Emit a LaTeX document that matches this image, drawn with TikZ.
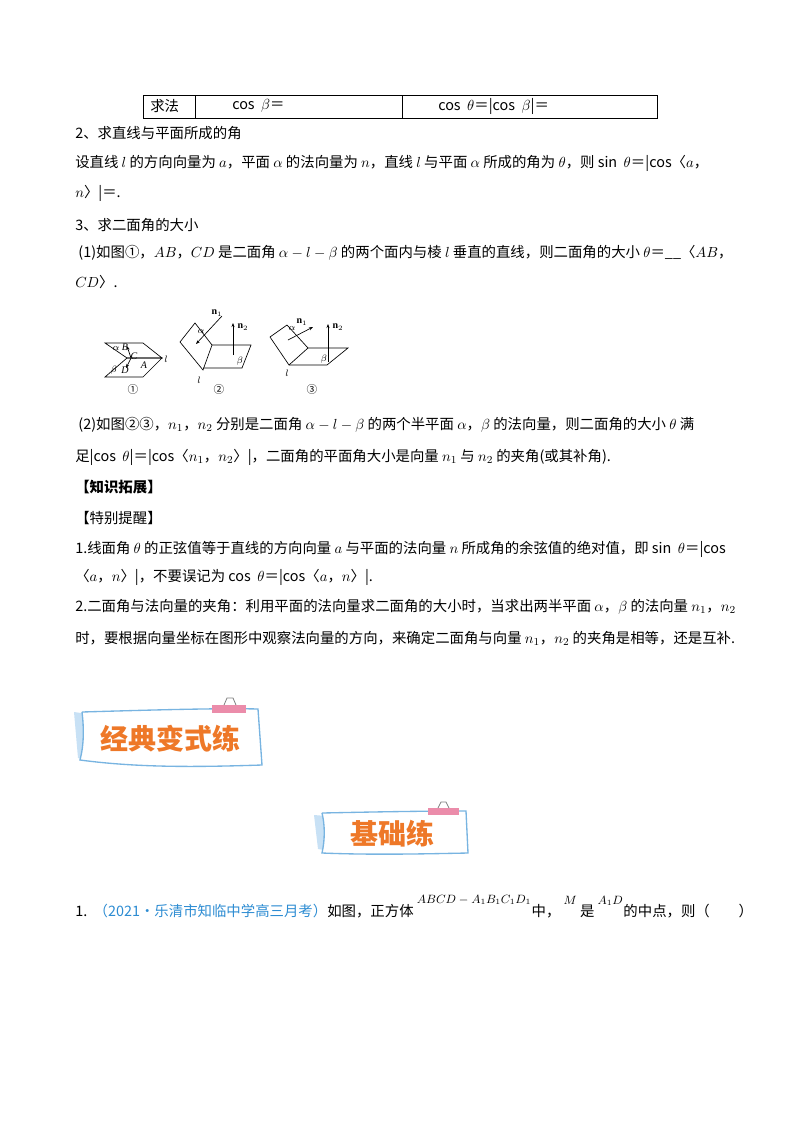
\documentclass[tikz,border=0pt]{standalone}
\usepackage{fontspec}
\setmainfont{Liberation Serif}
\newfontfamily\cjk{Noto Sans CJK SC}
\usetikzlibrary{arrows.meta}
\definecolor{qblue}{RGB}{45,140,210}
\definecolor{borange}{RGB}{238,120,40}
\definecolor{bline}{RGB}{120,180,225}
\definecolor{bfill}{RGB}{200,225,245}
\definecolor{pinkc}{RGB}{235,140,170}
\tikzset{
 txt/.style={anchor=west,inner sep=0pt,font=\cjk\fontsize{10.8}{13}\selectfont},
 lab/.style={inner sep=0pt,font=\fontsize{7.5}{8}\selectfont\itshape},
 num/.style={inner sep=0pt,font=\cjk\fontsize{8}{9}\selectfont},
 geo/.style={line width=0.5pt},
 vec/.style={line width=0.5pt,-{Stealth[length=3pt]}},
 banner/.style={draw=bline,line width=1pt,fill=white},
 btxt/.style={inner sep=0pt,text=borange,font=\cjk\bfseries\fontsize{21}{24}\selectfont},
 sup/.style={inner sep=0pt,anchor=south west,font=\fontsize{9}{10}\selectfont},
}
\newcommand{\eqs}{＝}
\begin{document}
\begin{tikzpicture}[x=0.75pt,y=-0.75pt]
\useasboundingbox (0,0) rectangle (800,1132);
% table
\draw[line width=0.6pt] (143,95) rectangle (657,118);
\draw[line width=0.6pt] (195,95) -- (195,118) (402,95) -- (402,118);
\node[txt] (t1) at (150,106) {求法};
\node[txt] (t2) at (232,106) {cos\ \ $\beta$\eqs};
\node[txt] (t3) at (438,106) {cos\ \ $\theta$\eqs|cos\ \ $\beta$|\eqs};
% text lines
\node[txt] (l1) at (75,133) {2、求直线与平面所成的角};
\node[txt] (l2) at (75,163) {设直线 $l$ 的方向向量为 $a$，平面 $\alpha$ 的法向量为 $n$，直线 $l$ 与平面 $\alpha$ 所成的角为 $\theta$，则 sin\ \ $\theta$\eqs|cos〈$a$，};
\node[txt] (l3) at (75,193) {$n$〉|\eqs.};
\node[txt] (l4) at (75,225) {3、求二面角的大小};
\node[txt] (l5) at (75,253) {\ (1)如图①，$AB$，$CD$ 是二面角 $\alpha-l-\beta$ 的两个面内与棱 $l$ 垂直的直线，则二面角的大小 $\theta$\eqs\_\_〈$AB$，};
\node[txt] (l6) at (75,282) {$CD$〉.};
% figure 1
\draw[geo] (105,343) -- (143,343) -- (162,358) -- (127,358) -- cycle;
\draw[geo] (127,358) -- (162,358) -- (143,377) -- (105,377) -- cycle;
\draw[vec] (131,358) -- (127,346);
\draw[vec] (131,358) -- (126,368);
\node[lab] (f1l) at (166,359) {$l$};
\node[lab] (f1a) at (116,348) {$\alpha$};
\node[lab] (f1B) at (125,347) {B};
\node[lab] (f1C) at (134,356) {C};
\node[lab] (f1A) at (144,365) {A};
\node[lab] (f1b) at (114,370) {$\beta$};
\node[lab] (f1D) at (125,370) {D};
\node[num] (c1) at (133,389) {①};
% figure 2
\draw[geo] (195,323) -- (180,342) -- (203,370) -- (212,345) -- cycle;
\draw[geo] (212,345) -- (251,345) -- (242,368) -- (203,368);
\draw[vec] (222,316) -- (196,344);
\draw[vec] (233,355) -- (233,323);
\node[lab] (f2n1) at (217,313) {$\mathbf{n}_1$};
\node[lab] (f2n2) at (243,327) {$\mathbf{n}_2$};
\node[lab] (f2a) at (201,331) {$\alpha$};
\node[lab] (f2b) at (240,361) {$\beta$};
\node[lab] (f2l) at (199,380) {$l$};
\node[num] (c2) at (219,389) {②};
% figure 3
\draw[geo] (287,325) -- (270,337) -- (289,365) -- (308,348) -- cycle;
\draw[geo] (308,348) -- (348,348) -- (327,365) -- (289,365);
\draw[vec] (288,340) -- (313,327);
\draw[vec] (328,362) -- (328,324);
\node[lab] (f3n1) at (302,322) {$\mathbf{n}_1$};
\node[lab] (f3n2) at (338,327) {$\mathbf{n}_2$};
\node[lab] (f3a) at (292,328) {$\alpha$};
\node[lab] (f3b) at (324,359) {$\beta$};
\node[lab] (f3l) at (287,373) {$l$};
\node[num] (c3) at (312,389) {③};
% more text
\node[txt] (l7) at (75,425) {\ (2)如图②③，$n_1$，$n_2$ 分别是二面角 $\alpha-l-\beta$ 的两个半平面 $\alpha$，$\beta$ 的法向量，则二面角的大小 $\theta$ 满};
\node[txt] (l8) at (75,457) {足|cos\ \ $\theta$|\eqs|cos〈$n_1$，$n_2$〉|，二面角的平面角大小是向量 $n_1$ 与 $n_2$ 的夹角(或其补角).};
\node[txt,font=\cjk\bfseries\fontsize{10.8}{13}\selectfont] (l9) at (75,487) {【知识拓展】};
\node[txt] (l10) at (75,518) {【特别提醒】};
\node[txt] (l11) at (75,549) {1.线面角 $\theta$ 的正弦值等于直线的方向向量 $a$ 与平面的法向量 $n$ 所成角的余弦值的绝对值，即 sin\ \ $\theta$\eqs|cos};
\node[txt] (l12) at (75,577) {〈$a$，$n$〉|，不要误记为 cos\ \ $\theta$\eqs|cos〈$a$，$n$〉|.};
\node[txt] (l13) at (75,607) {2.二面角与法向量的夹角：利用平面的法向量求二面角的大小时，当求出两半平面 $\alpha$，$\beta$ 的法向量 $n_1$，$n_2$};
\node[txt] (l14) at (75,638) {时，要根据向量坐标在图形中观察法向量的方向，来确定二面角与向量 $n_1$，$n_2$ 的夹角是相等，还是互补.};
% banner 1
\fill[bfill] (74,712) -- (88,714) -- (86,760) -- (78,758) -- cycle;
\draw[banner] (82,712) .. controls (150,710) and (220,708) .. (258,709) -- (262,765) .. controls (200,767) and (140,768) .. (80,760) .. controls (84,745) and (84,728) .. (82,712);
\fill[pinkc] (212,705) rectangle (246,713);
\draw[gray,line width=0.6pt] (224,705) -- (227,698) -- (233,698) -- (236,705);
\node[btxt] (b1) at (170,739) {经典变式练};
% banner 2
\fill[bfill] (314,815) -- (326,816) -- (324,850) -- (318,849) -- cycle;
\draw[banner] (322,813) .. controls (370,812) and (420,811) .. (466,811) -- (468,853) .. controls (420,854) and (370,855) .. (322,853) .. controls (325,840) and (325,825) .. (322,813);
\fill[pinkc] (428,808) rectangle (459,815);
\draw[gray,line width=0.6pt] (438,808) -- (441,802) -- (446,802) -- (449,808);
\node[btxt] (b2) at (392,834) {基础练};
% question
\node[txt] (q1) at (75,911) {1.\ \ \textcolor{qblue}{（2021•乐清市知临中学高三月考）}如图，正方体};
\node[sup] (q2) at ([xshift=2pt,yshift=-1pt]q1.north east) {$ABCD-A_1B_1C_1D_1$};
\node[txt] (q3) at ([xshift=0pt]q2.south east |- q1.west) {中，};
\node[sup] (q4) at ([xshift=2pt,yshift=-1pt]q3.north east) {$M$};
\node[txt] (q5) at ([xshift=2pt]q4.south east |- q1.west) {是};
\node[sup] (q6) at ([xshift=2pt,yshift=-1pt]q5.north east) {$A_1D$};
\node[txt] (q7) at ([xshift=0pt]q6.south east |- q1.west) {的中点，则（\qquad）};
\end{tikzpicture}
\end{document}
